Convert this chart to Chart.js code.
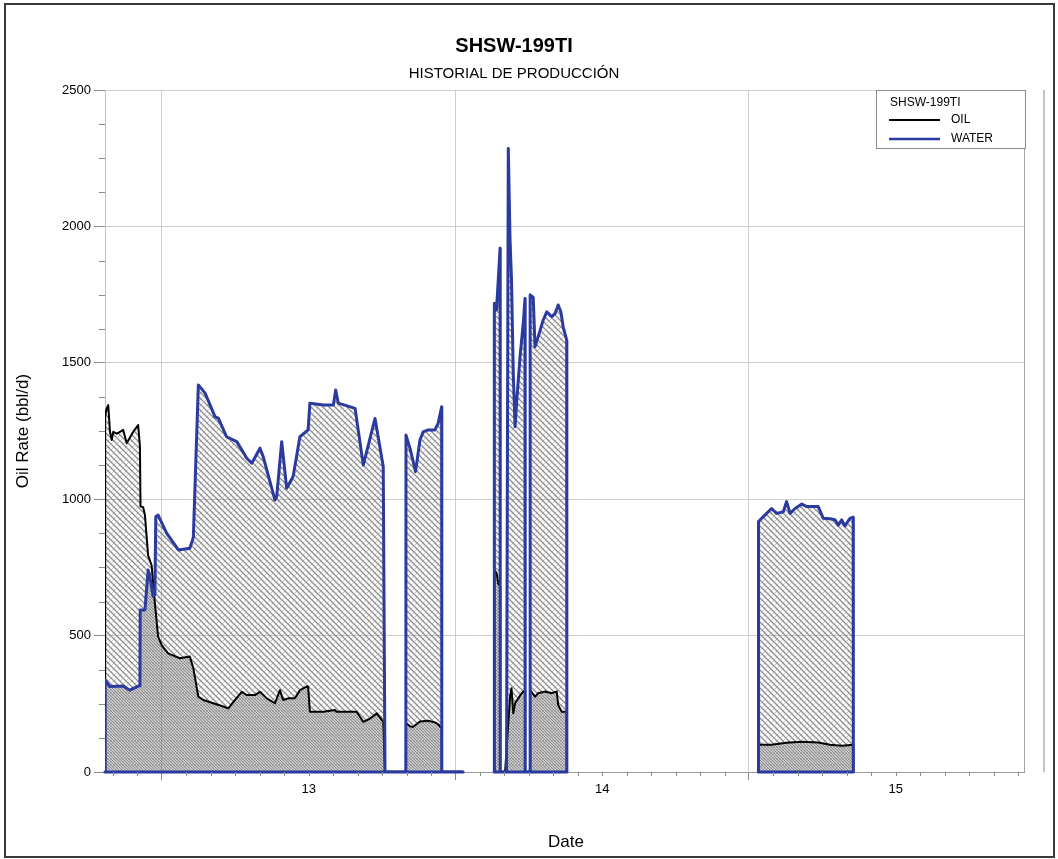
<!DOCTYPE html>
<html>
<head>
<meta charset="utf-8">
<title>SHSW-199TI - Historial de producción</title>
<script src="https://cdn.jsdelivr.net/npm/chart.js@4.4.1/dist/chart.umd.min.js"></script>
<style>
  html, body { margin: 0; padding: 0; background: #fff; }
  #wrap { width: 1058px; height: 859px; }
</style>
</head>
<body>
<div id="wrap"><canvas id="prod" width="1058" height="859"></canvas></div>
<script>
// Dates are decimal years; null marks a break between production periods.
const waterDates = [
  2012.806, 2012.8065, 2012.823, 2012.868, 2012.891, 2012.919, 2012.925, 2012.926, 2012.942, 2012.953,
  2012.959, 2012.970, 2012.976, 2012.979, 2012.987, 2013.016, 2013.056, 2013.095, 2013.107, 2013.124,
  2013.147, 2013.181, 2013.192, 2013.220, 2013.255, 2013.289, 2013.306, 2013.334, 2013.345, 2013.385,
  2013.391, 2013.408, 2013.425, 2013.447, 2013.470, 2013.498, 2013.504, 2013.550, 2013.584, 2013.592,
  2013.601, 2013.658, 2013.686, 2013.726, 2013.754, 2013.760,
  2013.831, 2013.8315, 2013.845, 2013.864, 2013.879, 2013.890, 2013.907, 2013.930, 2013.941, 2013.953,
  2013.9535, 2014.026,
  null,
  2014.132, 2014.1325, 2014.140, 2014.152, 2014.1525,
  2014.174, 2014.180, 2014.186, 2014.191, 2014.197, 2014.203, 2014.209, 2014.220, 2014.231, 2014.237, 2014.2375,
  2014.254, 2014.2545, 2014.265, 2014.271, 2014.282, 2014.299, 2014.311, 2014.328, 2014.339, 2014.350,
  2014.359, 2014.367, 2014.379, 2014.3795,
  null,
  2015.032, 2015.0325, 2015.049, 2015.077, 2015.094, 2015.117, 2015.128, 2015.140, 2015.157, 2015.180,
  2015.197, 2015.236, 2015.253, 2015.276, 2015.293, 2015.304, 2015.316, 2015.327, 2015.344, 2015.355, 2015.3555
];
const waterRate = [
  0, 337, 313, 315, 300, 315, 316, 594, 594, 740,
  716, 643, 650, 936, 942, 876, 814, 820, 860, 1419,
  1389, 1302, 1297, 1229, 1211, 1150, 1132, 1187, 1156, 997,
  1010, 1211, 1040, 1083, 1229, 1254, 1352, 1345, 1345, 1400,
  1352, 1333, 1125, 1296, 1119, 0,
  0, 1235, 1187, 1101, 1217, 1247, 1254, 1254, 1278, 1339,
  0, 0,
  null,
  0, 1718, 1694, 1920, 0,
  0, 2286, 1950, 1803, 1462, 1266, 1364, 1522, 1645, 1736, 0,
  0, 1749, 1740, 1559, 1596, 1657, 1687, 1669, 1680, 1712,
  1687, 1632, 1583, 0,
  null,
  0, 918, 936, 966, 948, 954, 991, 948, 966, 982,
  973, 973, 930, 928, 925, 905, 924, 902, 930, 934, 0
];

const oilDates = [
  2012.806, 2012.8065, 2012.810, 2012.817, 2012.823, 2012.829, 2012.834, 2012.846, 2012.857, 2012.868,
  2012.880, 2012.902, 2012.919, 2012.925, 2012.927, 2012.936, 2012.942, 2012.953, 2012.965, 2012.976,
  2012.987, 2012.999, 2013.021, 2013.061, 2013.095, 2013.107, 2013.124, 2013.141, 2013.175, 2013.209,
  2013.226, 2013.249, 2013.272, 2013.289, 2013.317, 2013.334, 2013.357, 2013.385, 2013.402, 2013.413,
  2013.430, 2013.453, 2013.470, 2013.493, 2013.498, 2013.504, 2013.550, 2013.589, 2013.595, 2013.663,
  2013.686, 2013.709, 2013.732, 2013.754, 2013.760,
  2013.831, 2013.8315, 2013.845, 2013.855, 2013.879, 2013.907, 2013.930, 2013.941, 2013.953, 2013.9535,
  2014.026,
  null,
  2014.132, 2014.1325, 2014.140, 2014.146, 2014.152, 2014.1525,
  2014.169, 2014.186, 2014.191, 2014.197, 2014.203, 2014.214, 2014.225, 2014.237, 2014.2375,
  2014.254, 2014.2545, 2014.271, 2014.282, 2014.305, 2014.328, 2014.345, 2014.350, 2014.362, 2014.379,
  2014.3795,
  null,
  2015.032, 2015.0325, 2015.077, 2015.128, 2015.180, 2015.236, 2015.276, 2015.316, 2015.355, 2015.3555
];
const oilRate = [
  0, 1300, 1327, 1345, 1247, 1217, 1247, 1240, 1247, 1254,
  1205, 1247, 1272, 1193, 973, 971, 942, 793, 757, 618,
  496, 465, 435, 417, 423, 380, 276, 264, 252, 240,
  233, 264, 294, 282, 282, 294, 270, 252, 300, 264,
  270, 270, 300, 313, 313, 221, 221, 227, 221, 221,
  184, 196, 215, 184, 0,
  0, 180, 168, 165, 185, 188, 182, 175, 160, 0,
  0,
  null,
  0, 740, 730, 690, 680, 0,
  0, 276, 307, 215, 252, 270, 288, 300, 0,
  0, 300, 276, 289, 295, 289, 295, 246, 221, 221,
  0,
  null,
  0, 100, 100, 107, 111, 108, 100, 96, 100, 0
];

// Axis ticks: year boundaries carry the grid, mid-year positions carry the labels.
const yearTicks = [2013, 2014, 2015];
const yearLabels = ['13', '14', '15'];
const rateTicks = [0, 500, 1000, 1500, 2000, 2500];

const seriesNames = ['OIL', 'WATER'];
const wellName = 'SHSW-199TI';

const WATER_BLUE = '#2b3a9f';
const FONT = '"Liberation Sans", Arial, sans-serif';

function toPoints(dates, rates) {
  return dates.map((d, i) => ({ x: d === null ? dates[i - 1] : d, y: rates[i] }));
}

// Crosshatch tile; a half-period shift makes overlapping fills read as a denser, darker hatch.
function hatch(shift) {
  const s = 6;
  const tile = document.createElement('canvas');
  tile.width = tile.height = s;
  const g = tile.getContext('2d');
  g.strokeStyle = 'rgba(80,80,80,0.62)';
  g.lineWidth = 1.4;
  g.beginPath();
  for (let k = -2; k <= 2; k++) { const o = k * s + shift; g.moveTo(o, 0); g.lineTo(o + s, s); }
  g.stroke();
  g.strokeStyle = 'rgba(130,130,130,0.42)';
  g.lineWidth = 1;
  g.beginPath();
  for (let k = -2; k <= 2; k++) { const o = k * s + shift; g.moveTo(o, s); g.lineTo(o + s, 0); }
  g.stroke();
  return g.createPattern(tile, 'repeat');
}

const tickValues = [];
yearTicks.forEach(y => { tickValues.push(y, y + 0.5); });

const decor = {
  id: 'decor',
  beforeDraw(chart) {
    const ctx = chart.ctx;
    ctx.save();
    ctx.fillStyle = '#fff';
    ctx.fillRect(0, 0, chart.width, chart.height);
    ctx.restore();
  },
  afterDatasetsDraw(chart) {
    // close each water production period along the zero line
    const ctx = chart.ctx;
    const meta = chart.getDatasetMeta(1);
    const y0 = chart.scales.y.getPixelForValue(0);
    const runs = [];
    let first = null, last = null;
    meta.data.forEach(p => {
      if (p.skip) { if (first) runs.push([first, last]); first = null; }
      else { if (!first) first = p; last = p; }
    });
    if (first) runs.push([first, last]);
    ctx.save();
    ctx.strokeStyle = WATER_BLUE;
    ctx.lineWidth = 3;
    ctx.lineCap = 'round';
    ctx.beginPath();
    runs.forEach(([a, b]) => { ctx.moveTo(a.x, y0); ctx.lineTo(b.x, y0); });
    ctx.stroke();
    ctx.restore();
  },
  afterDraw(chart) {
    const ctx = chart.ctx;
    const a = chart.chartArea;
    const xs = chart.scales.x, ys = chart.scales.y;
    ctx.save();

    // monthly minor ticks on the date axis
    ctx.strokeStyle = '#8a8a8a';
    ctx.lineWidth = 1;
    ctx.beginPath();
    for (let yr = Math.floor(xs.min); yr <= Math.ceil(xs.max); yr++) {
      for (let m = 1; m < 12; m++) {
        const v = yr + m / 12;
        if (v <= xs.min || v >= xs.max) continue;
        const px = Math.round(xs.getPixelForValue(v)) + 0.5;
        ctx.moveTo(px, a.bottom);
        ctx.lineTo(px, a.bottom + 4);
      }
    }
    // minor ticks on the rate axis
    for (let v = 125; v < ys.max; v += 125) {
      if (v % 500 === 0) continue;
      const py = Math.round(ys.getPixelForValue(v)) + 0.5;
      ctx.moveTo(a.left - 6, py);
      ctx.lineTo(a.left, py);
    }
    ctx.stroke();

    // right edge of the plot and the outer panel line
    ctx.strokeStyle = '#a5a5a5';
    ctx.beginPath();
    ctx.moveTo(a.right + 0.5, a.top);
    ctx.lineTo(a.right + 0.5, a.bottom);
    ctx.stroke();
    ctx.strokeStyle = '#b0b0b0';
    ctx.lineWidth = 1.5;
    ctx.beginPath();
    ctx.moveTo(1044, a.top);
    ctx.lineTo(1044, a.bottom);
    ctx.stroke();

    // outer frame
    ctx.strokeStyle = '#3a3a3a';
    ctx.lineWidth = 2;
    ctx.strokeRect(5, 4, 1049, 853);

    // titles
    ctx.fillStyle = '#000';
    ctx.textAlign = 'center';
    ctx.textBaseline = 'alphabetic';
    ctx.font = 'bold 20px ' + FONT;
    ctx.fillText(wellName, 514, 52);
    ctx.font = '15px ' + FONT;
    ctx.fillText('HISTORIAL DE PRODUCCIÓN', 514, 78);

    // axis titles
    ctx.font = '17px ' + FONT;
    ctx.fillText('Date', 566, 847);
    ctx.save();
    ctx.translate(28, 431);
    ctx.rotate(-Math.PI / 2);
    ctx.fillText('Oil Rate (bbl/d)', 0, 0);
    ctx.restore();

    // legend box
    ctx.fillStyle = '#fff';
    ctx.fillRect(876, 90, 150, 59);
    ctx.strokeStyle = '#8c8c8c';
    ctx.lineWidth = 1;
    ctx.strokeRect(876.5, 90.5, 149, 58);
    ctx.fillStyle = '#000';
    ctx.textAlign = 'left';
    ctx.textBaseline = 'middle';
    ctx.font = '12px ' + FONT;
    ctx.fillText(wellName, 890, 103);
    const rows = [[seriesNames[0], '#000', 2, 120], [seriesNames[1], WATER_BLUE, 2.5, 139]];
    rows.forEach(([name, color, w, yy]) => {
      ctx.strokeStyle = color;
      ctx.lineWidth = w;
      ctx.beginPath();
      ctx.moveTo(889, yy);
      ctx.lineTo(940, yy);
      ctx.stroke();
      ctx.fillText(name, 951, yy);
    });

    ctx.restore();
  }
};

Chart.defaults.font.family = FONT;
Chart.defaults.color = '#000';

new Chart(document.getElementById('prod'), {
  type: 'line',
  data: {
    datasets: [
      {
        label: seriesNames[0],
        data: toPoints(oilDates, oilRate),
        borderColor: '#000',
        borderWidth: 2,
        backgroundColor: hatch(3),
        fill: 'origin',
        pointRadius: 0,
        tension: 0,
        spanGaps: false,
        borderJoinStyle: 'round',
        order: 2
      },
      {
        label: seriesNames[1],
        data: toPoints(waterDates, waterRate),
        borderColor: WATER_BLUE,
        borderWidth: 3,
        backgroundColor: hatch(0),
        fill: 'origin',
        pointRadius: 0,
        tension: 0,
        spanGaps: false,
        borderJoinStyle: 'round',
        order: 1
      }
    ]
  },
  options: {
    responsive: false,
    animation: false,
    events: [],
    layout: { padding: { left: 0, top: 90, right: 34, bottom: 0 } },
    plugins: {
      legend: { display: false },
      title: { display: false },
      tooltip: { enabled: false },
      filler: { drawTime: 'beforeDatasetsDraw' }
    },
    scales: {
      x: {
        type: 'linear',
        min: 2012.806,
        max: 2015.937,
        afterFit: s => { s.height = 87; },
        afterBuildTicks: s => { s.ticks = tickValues.map(v => ({ value: v })); },
        ticks: {
          autoSkip: false,
          maxRotation: 0,
          padding: 2,
          font: { size: 13 },
          callback: v => {
            const i = yearTicks.indexOf(v - 0.5);
            return i >= 0 ? yearLabels[i] : '';
          }
        },
        grid: {
          color: c => (c.tick && yearTicks.includes(c.tick.value)) ? '#cdcdcd' : 'rgba(0,0,0,0)',
          tickColor: c => (c.tick && yearTicks.includes(c.tick.value)) ? '#8a8a8a' : 'rgba(0,0,0,0)',
          tickLength: 8,
          lineWidth: 1
        },
        border: { color: '#9a9a9a', width: 1 }
      },
      y: {
        min: 0,
        max: 2500,
        afterFit: s => { s.width = 105; },
        afterBuildTicks: s => { s.ticks = rateTicks.map(v => ({ value: v })); },
        ticks: {
          padding: 3,
          font: { size: 13 },
          callback: v => String(v)
        },
        grid: {
          color: '#cdcdcd',
          tickColor: '#8a8a8a',
          tickLength: 11,
          lineWidth: 1
        },
        border: { color: '#c4c4c4', width: 1 }
      }
    }
  },
  plugins: [decor]
});
</script>
</body>
</html>
